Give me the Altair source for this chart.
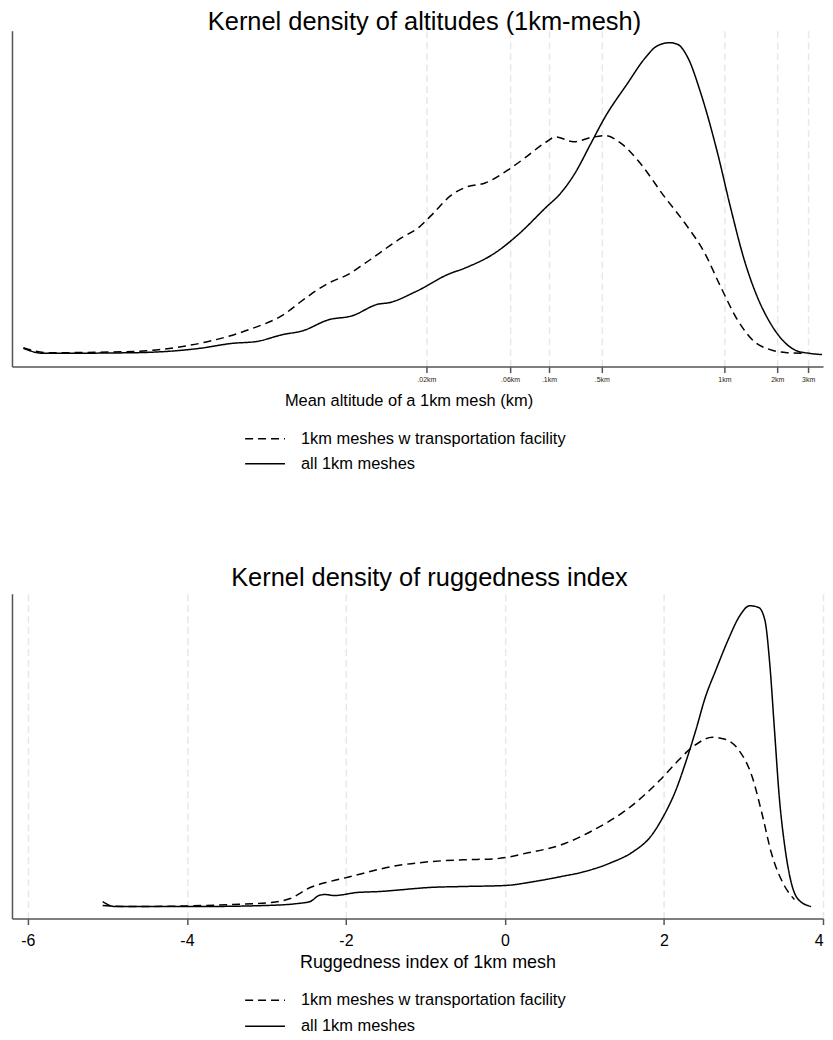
import altair as alt
import pandas as pd

# ---------- Top panel: kernel density of log altitude ----------
# x values are ln(altitude in km)
alt_all_x = [-9.20, -8.94, -7.76, -6.89, -6.46, -6.14, -5.80, -5.54, -5.19, -4.89,
             -4.54, -4.41, -4.05, -3.62, -3.40, -3.01, -2.71, -2.35, -2.14, -1.96,
             -1.75, -1.57, -1.27, -1.05, -0.88, -0.72, -0.61, -0.48, -0.31, -0.09,
             0.08, 0.26, 0.43, 0.60, 0.78, 0.95, 1.12, 1.28]
alt_all_y = [0.010, 0.002, 0.003, 0.010, 0.018, 0.021, 0.032, 0.038, 0.056, 0.062,
             0.081, 0.083, 0.101, 0.129, 0.139, 0.163, 0.192, 0.235, 0.260, 0.291,
             0.339, 0.380, 0.435, 0.474, 0.495, 0.500, 0.497, 0.476, 0.419, 0.323,
             0.236, 0.152, 0.093, 0.051, 0.021, 0.006, 0.002, 0.000]

alt_tr_x = [-9.20, -8.89, -7.76, -7.11, -6.67, -6.24, -5.75, -5.58, -5.19, -4.93,
            -4.71, -4.24, -4.01, -3.84, -3.58, -3.40, -3.14, -2.84, -2.61, -2.35,
            -2.21, -1.98, -1.75, -1.57, -1.36, -1.14, -0.78, -0.52, -0.26, -0.05,
            0.17, 0.39, 0.60, 0.82, 1.05]
alt_tr_y = [0.011, 0.003, 0.005, 0.013, 0.024, 0.040, 0.067, 0.083, 0.115, 0.129,
            0.147, 0.187, 0.204, 0.224, 0.256, 0.268, 0.275, 0.296, 0.316, 0.340,
            0.349, 0.341, 0.348, 0.351, 0.339, 0.312, 0.252, 0.211, 0.163, 0.109,
            0.056, 0.021, 0.008, 0.003, 0.002]

alt_tick_vals = [-3.912, -2.813, -2.303, -1.609, 0.0, 0.693, 1.099]
alt_tick_labels = [".02km", ".06km", ".1km", ".5km", "1km", "2km", "3km"]

# ---------- Bottom panel: kernel density of ruggedness index ----------
rug_all_x = [-5.06, -4.91, -3.85, -3.02, -2.61, -2.45, -2.34, -2.26, -2.15, -1.86,
             -1.58, -1.12, -0.96, -0.53, 0.00, 0.37, 0.71, 0.99, 1.33, 1.61,
             1.83, 1.99, 2.15, 2.27, 2.40, 2.52, 2.65, 2.82, 2.94, 3.08,
             3.19, 3.27, 3.33, 3.39, 3.45, 3.52, 3.60, 3.69, 3.85]
rug_all_y = [0.015, 0.000, 0.000, 0.003, 0.009, 0.015, 0.033, 0.036, 0.033, 0.042,
             0.045, 0.054, 0.057, 0.060, 0.063, 0.075, 0.090, 0.104, 0.131, 0.164,
             0.209, 0.269, 0.349, 0.430, 0.528, 0.627, 0.707, 0.806, 0.866, 0.901,
             0.896, 0.857, 0.728, 0.528, 0.328, 0.179, 0.072, 0.021, 0.000]

rug_tr_x = [-5.06, -4.68, -3.44, -2.94, -2.70, -2.45, -2.20, -1.99, -1.37, -0.96,
            -0.53, -0.12, 0.29, 0.71, 1.12, 1.53, 1.95, 2.15, 2.36, 2.61,
            2.77, 2.94, 3.11, 3.23, 3.35, 3.52, 3.64]
rug_tr_y = [0.003, 0.000, 0.006, 0.012, 0.024, 0.057, 0.075, 0.087, 0.122, 0.134,
            0.140, 0.143, 0.161, 0.185, 0.230, 0.290, 0.379, 0.430, 0.478, 0.507,
            0.501, 0.469, 0.388, 0.281, 0.161, 0.060, 0.021]
rug_tick_vals = [-6, -4, -2, 0, 2, 4]

series_names = ["1km meshes w transportation facility", "all 1km meshes"]


def frame(xs_tr, ys_tr, xs_all, ys_all):
    rows = []
    for i, (x, y) in enumerate(zip(xs_tr, ys_tr)):
        rows.append({"x": x, "y": y, "series": series_names[0], "o": i})
    for i, (x, y) in enumerate(zip(xs_all, ys_all)):
        rows.append({"x": x, "y": y, "series": series_names[1], "o": i})
    return pd.DataFrame(rows)


df_top = frame(alt_tr_x, alt_tr_y, alt_all_x, alt_all_y)
df_bot = frame(rug_tr_x, rug_tr_y, rug_all_x, rug_all_y)

FONT = "Liberation Sans"

label_expr = ""
for v, lab in zip(alt_tick_vals, alt_tick_labels):
    label_expr += f"abs(datum.value - ({v})) < 0.01 ? '{lab}' : "
label_expr += "''"


def legend_params(ly, ch):
    return alt.Legend(
        title=None, orient="none", legendX=233, legendY=ly,
        symbolType="stroke", symbolSize=1600, symbolStrokeWidth=1.5,
        symbolStrokeColor="black", labelFontSize=16.5, labelFont=FONT,
        labelColor="black", labelOffset=15, rowPadding=0, clipHeight=ch,
        labelLimit=0, direction="vertical",
    )


y_axis = alt.Axis(title=None, labels=False, ticks=False, grid=False,
                  domainColor="#555", domainWidth=1.5)

top = alt.Chart(df_top).mark_line(color="black", strokeWidth=1.5, interpolate="monotone").encode(
    x=alt.X("x:Q",
            scale=alt.Scale(domain=[-9.35, 1.294], nice=False, zero=False),
            axis=alt.Axis(values=alt_tick_vals, labelExpr=label_expr,
                          title="Mean altitude of a 1km mesh (km)",
                          titleFontSize=16.5, titleFont=FONT, titleFontWeight="normal",
                          titleColor="black", titlePadding=10, titleX=398,
                          labelFontSize=7, labelFont=FONT, labelColor="#2b1d10",
                          labelPadding=3,
                          tickSize=6, tickColor="#555", tickWidth=1.5,
                          domainColor="#555", domainWidth=1.5,
                          grid=True, gridDash=[7, 4], gridColor="#e8e8e8", gridWidth=1.5)),
    y=alt.Y("y:Q", scale=alt.Scale(domain=[-0.0192, 0.519], nice=False, zero=False), axis=y_axis),
    strokeDash=alt.StrokeDash("series:N",
                              scale=alt.Scale(domain=series_names, range=[[8, 5], [1, 0]]),
                              legend=legend_params(397, 25)),
    order="o:Q",
).properties(
    width=814, height=337,
    title=alt.TitleParams("Kernel density of altitudes (1km-mesh)", fontSize=25.5, font=FONT,
                          fontWeight="normal", color="black", anchor="middle", offset=-5, dx=7),
)

bottom = alt.Chart(df_bot).mark_line(color="black", strokeWidth=1.5, interpolate="monotone").encode(
    x=alt.X("x:Q",
            scale=alt.Scale(domain=[-6.2, 4.0], nice=False, zero=False),
            axis=alt.Axis(values=rug_tick_vals, labelExpr="datum.value + ''",
                          title="Ruggedness index of 1km mesh",
                          titleFontSize=18, titleFont=FONT, titleFontWeight="normal",
                          titleColor="black", titlePadding=5, titleX=417,
                          labelFontSize=16, labelFont=FONT, labelColor="black",
                          labelPadding=8,
                          tickSize=6, tickColor="#555", tickWidth=1.5,
                          domainColor="#555", domainWidth=1.5,
                          grid=True, gridDash=[7, 4], gridColor="#e8e8e8", gridWidth=1.5)),
    y=alt.Y("y:Q", scale=alt.Scale(domain=[-0.036, 0.937], nice=False, zero=False), axis=y_axis),
    strokeDash=alt.StrokeDash("series:N",
                              scale=alt.Scale(domain=series_names, range=[[8, 5], [1, 0]]),
                              legend=legend_params(395, 26)),
    order="o:Q",
).properties(
    width=814, height=326,
    title=alt.TitleParams("Kernel density of ruggedness index", fontSize=25.5, font=FONT,
                          fontWeight="normal", color="black", anchor="middle", offset=2, dx=12),
)

chart = alt.vconcat(top, bottom, spacing=90).resolve_scale(
    strokeDash="independent"
).resolve_legend(strokeDash="independent").properties(
    padding={"left": 4, "right": 0, "top": 0, "bottom": 0}
).configure_view(stroke=None)

chart.save("out.html", embed_options={"renderer": "svg", "actions": False})
